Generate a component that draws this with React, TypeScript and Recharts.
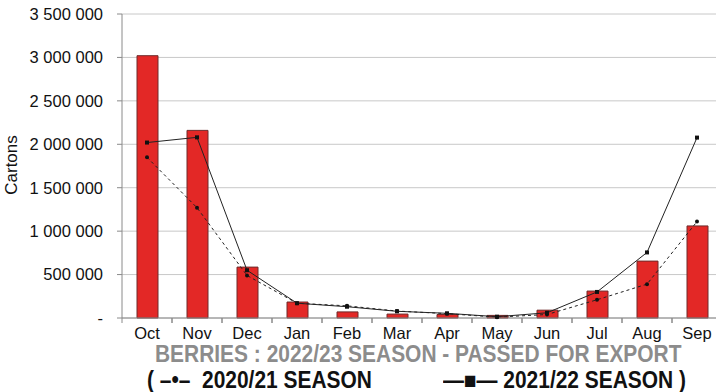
import { ComposedChart, Bar, Line, XAxis, YAxis, CartesianGrid } from 'recharts'

const months = ['Oct', 'Nov', 'Dec', 'Jan', 'Feb', 'Mar', 'Apr', 'May', 'Jun', 'Jul', 'Aug', 'Sep']
const season2223 = [3020000, 2160000, 586000, 184000, 70000, 45000, 40000, 30000, 90000, 310000, 655000, 1060000]
const season2122 = [2020000, 2080000, 550000, 170000, 130000, 77000, 54000, 15000, 60000, 300000, 755000, 2077000]
const season2021 = [1850000, 1270000, 490000, 170000, 140000, 80000, 50000, 10000, 40000, 210000, 390000, 1110000]
const yTicks = [0, 500000, 1000000, 1500000, 2000000, 2500000, 3000000, 3500000]

const data = months.map((m, i) => ({ month: m, s2223: season2223[i], s2122: season2122[i], s2021: season2021[i] }))

const W = 722
const H = 392
const LEFT = 122
const HALF_BAND = (W - LEFT) / months.length / 2

// thousands separated by a space, zero shown as a dash
const fmt = (v: number) => (v === 0 ? '-' : v.toLocaleString('en-US').replace(/,/g, ' '))

const XTick = ({ x, y, payload }: any) => (
  <g>
    <line x1={x - HALF_BAND} x2={x - HALF_BAND} y1={y - 8} y2={y - 3} stroke="#8a8a8a" />
    <line x1={x + HALF_BAND} x2={x + HALF_BAND} y1={y - 8} y2={y - 3} stroke="#8a8a8a" />
    <text x={x} y={y + 13} textAnchor="middle" fill="#111" fontSize={16.5}>{payload.value}</text>
  </g>
)

const SquareDot = ({ cx, cy }: any) => <rect x={cx - 2} y={cy - 2} width={4} height={4} fill="#111" />
const RoundDot = ({ cx, cy }: any) => <circle cx={cx} cy={cy} r={2} fill="#111" />

const bold = {
  position: 'absolute' as const,
  fontFamily: 'Liberation Sans, Arial, sans-serif',
  fontWeight: 'bold' as const,
  fontSize: 23,
  whiteSpace: 'nowrap' as const,
  transformOrigin: 'left top',
  transform: 'scaleX(0.91)',
}

export default function App() {
  return (
    <div style={{ position: 'absolute', left: 0, top: 0, width: 716, height: 392, overflow: 'hidden', background: '#fff', fontFamily: 'Liberation Sans, Arial, sans-serif' }}>
      <ComposedChart width={W} height={H} data={data} margin={{ top: 14, right: 0, bottom: 0, left: 0 }}>
        <CartesianGrid vertical={false} stroke="#c8c8c8" />
        <XAxis dataKey="month" height={74} tick={<XTick />} tickLine={false} axisLine={{ stroke: '#8a8a8a' }} interval={0} />
        <YAxis
          width={LEFT}
          domain={[0, 3500000]}
          ticks={yTicks}
          tickFormatter={fmt}
          tick={{ fill: '#111', fontSize: 16.5 }}
          tickSize={5}
          tickMargin={14}
          tickLine={{ stroke: '#8a8a8a' }}
          axisLine={{ stroke: '#8a8a8a' }}
        />
        <Bar dataKey="s2223" fill="#e32826" stroke="#6e2a2a" strokeWidth={1} barSize={21} isAnimationActive={false} />
        <Line dataKey="s2021" stroke="#222" strokeWidth={1} strokeDasharray="3 3" dot={<RoundDot />} activeDot={false} isAnimationActive={false} />
        <Line dataKey="s2122" stroke="#222" strokeWidth={1} dot={<SquareDot />} activeDot={false} isAnimationActive={false} />
      </ComposedChart>
      <div style={{ position: 'absolute', left: 12, top: 165, transform: 'translate(-50%, -50%) rotate(-90deg)', fontSize: 17, color: '#111' }}>Cartons</div>
      <div style={{ ...bold, left: 155, top: 341, color: '#8c8c8c' }}>
        BERRIES : 2022/23 SEASON - PASSED FOR EXPORT
      </div>
      <div style={{ ...bold, left: 147, top: 367, color: '#111' }}>
        ( –•– &nbsp;2020/21 SEASON
      </div>
      <div style={{ ...bold, left: 443, top: 367, color: '#111' }}>
        —■— 2021/22 SEASON )
      </div>
    </div>
  )
}
